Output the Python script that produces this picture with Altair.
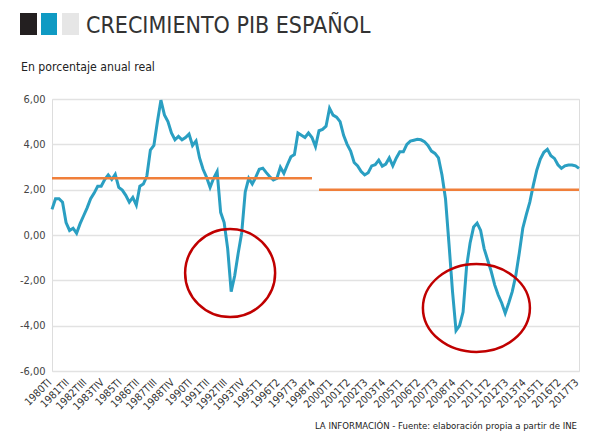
import json
import altair as alt
import pandas as pd

# ---- data -------------------------------------------------------------
gdp_growth = [
    1.13, 1.6, 1.6, 1.45, 0.55, 0.2, 0.3, 0.08, 0.5, 0.85,
    1.2, 1.6, 1.85, 2.15, 2.15, 2.45, 2.65, 2.45, 2.68, 2.1,
    1.98, 1.75, 1.45, 1.66, 1.32, 2.15, 2.25, 2.6, 3.75, 3.95,
    5.0, 5.95, 5.3, 5.0, 4.5, 4.2, 4.35, 4.2, 4.3, 4.45,
    3.95, 4.15, 3.4, 2.9, 2.55, 2.1, 2.5, 2.8, 1.0, 0.55,
    -0.6, -2.5, -1.8, -0.8, 0.1, 1.9, 2.5, 2.25, 2.55, 2.9,
    2.95, 2.75, 2.57, 2.43, 2.5, 2.99, 2.72, 3.1, 3.45, 3.55,
    4.5, 4.4, 4.3, 4.5, 4.3, 3.9, 4.6, 4.66, 4.8, 5.59,
    5.29, 5.2, 5.0, 4.4, 4.0, 3.7, 3.2, 3.05, 2.8, 2.65,
    2.75, 3.05, 3.1, 3.3, 3.04, 3.13, 3.4, 3.05, 3.4, 3.67,
    3.67, 4.0, 4.14, 4.18, 4.22, 4.2, 4.12, 3.95, 3.7, 3.6,
    3.4, 2.65, 1.6, -0.4, -2.5, -4.22, -4.0, -3.4, -1.4, -0.35,
    0.35, 0.52, 0.2, -0.6, -1.1, -1.6, -2.2, -2.65, -3.0, -3.45,
    -3.0, -2.5, -1.8, -0.8, 0.3, 0.9, 1.45, 2.2, 2.87, 3.35,
    3.65, 3.78, 3.5, 3.38, 3.1, 2.94, 3.05, 3.09, 3.09, 3.05,
    2.94,
]
quarter_index = list(range(len(gdp_growth)))

tick_labels = [
    "1980TI", "1981TII", "1982TIII", "1983TIV", "1985TI", "1986TII",
    "1987TIII", "1988TIV", "1990TI", "1991TII", "1992TIII", "1993TIV",
    "1995T1", "1996T2", "1997T3", "1998T4", "2000T1", "2001T2", "2002T3",
    "2003T4", "2005T1", "2006T2", "2007T3", "2008T4", "2010T1", "2011T2",
    "2012T3", "2013T4", "2015T1", "2016T2", "2017T3",
]

avg_start = [0, 76]
avg_end = [74, 150]
avg_value = [2.5, 2.0]

circle_x = [50.7, 120.8]
circle_y = [-1.68, -3.22]

# ---- styling ------------------------------------------------------------
NARROW = "'DejaVu Sans Condensed', 'Liberation Sans', sans-serif"
BLUE = "#2a9fc2"
ORANGE = "#f07f3a"
RED = "#c00000"

series = pd.DataFrame({"q": quarter_index, "v": gdp_growth})
avgs = pd.DataFrame({"q": avg_start, "e": avg_end, "v": avg_value})
circles = pd.DataFrame({"q": circle_x, "v": circle_y})

label_expr = json.dumps(tick_labels).replace('"', "'") + "[round(datum.value / 5)]"

x_scale = alt.Scale(domain=[0, 150], nice=False, zero=False)
y_scale = alt.Scale(domain=[-6, 6], nice=False)

x_axis = alt.Axis(
    values=list(range(0, 151, 5)), labelExpr=label_expr, labelAngle=-45,
    labelOverlap=False, labelBound=False, labelFlush=False, grid=False,
    domain=False, ticks=False, labelFont=NARROW, labelFontSize=10.5,
    labelColor="#333333", labelPadding=6, labelOffset=-6, title=None,
)
y_axis = alt.Axis(
    values=[-6, -4, -2, 0, 2, 4, 6],
    labelExpr="(datum.value < 0 ? '-' : '') + replace(format(abs(datum.value), '.2f'), '.', ',')",
    grid=True, gridColor="#e2e2e2", gridWidth=1.5, domain=False, ticks=False,
    labelFont=NARROW, labelFontSize=11, labelColor="#444444", labelPadding=7,
    labelOverlap=False, title=None,
)

X = alt.X("q:Q", scale=x_scale, axis=x_axis)
Y = alt.Y("v:Q", scale=y_scale, axis=y_axis)

line = alt.Chart(series).mark_line(color=BLUE, strokeWidth=3).encode(x=X, y=Y)

avg_rules = alt.Chart(avgs).mark_rule(color=ORANGE, strokeWidth=2.5).encode(
    x=X, x2="e:Q", y=Y
)

c1 = alt.Chart(circles.iloc[[0]]).mark_point(
    shape="M -1 0 A 1 0.978 0 1 0 1 0 A 1 0.978 0 1 0 -1 0 Z",
    filled=False, color=RED, strokeWidth=2.5, opacity=1, size=90 * 90,
).encode(x=X, y=Y)

c2 = alt.Chart(circles.iloc[[1]]).mark_point(
    shape="M -1 0 A 1 0.822 0 1 0 1 0 A 1 0.822 0 1 0 -1 0 Z",
    filled=False, color=RED, strokeWidth=2.5, opacity=1, size=107 * 107,
).encode(x=X, y=Y)

# decorative header squares (pixel positions relative to plot area)
sq = alt.Chart(pd.DataFrame({"k": [0]})).mark_rect
sq_black = sq(color="#231f20").encode(x=alt.value(-32), x2=alt.value(-15), y=alt.value(-86), y2=alt.value(-64))
sq_blue = sq(color="#0f9ac3").encode(x=alt.value(-11), x2=alt.value(5), y=alt.value(-86), y2=alt.value(-64))
sq_grey = sq(color="#e6e6e6").encode(x=alt.value(10), x2=alt.value(27), y=alt.value(-86), y2=alt.value(-64))

txt = alt.Chart(pd.DataFrame({"k": [0]}))
title = txt.mark_text(
    text="CRECIMIENTO PIB ESPAÑOL", font=NARROW, fontSize=23, color="#333333",
    align="left", baseline="alphabetic",
).encode(x=alt.value(34), y=alt.value(-66))
subtitle = txt.mark_text(
    text="En porcentaje anual real", font=NARROW, fontSize=12.2, color="#222222",
    align="left", baseline="alphabetic",
).encode(x=alt.value(-31), y=alt.value(-28))
footer = txt.mark_text(
    text="LA INFORMACIÓN - Fuente: elaboración propia a partir de INE", font=NARROW,
    fontSize=9.5, color="#222222", align="right", baseline="alphabetic",
).encode(x=alt.value(525), y=alt.value(330))

chart = alt.layer(
    line, avg_rules, c1, c2, sq_black, sq_blue, sq_grey, title, subtitle, footer
).properties(
    width=527, height=272,
    autosize=alt.AutoSizeParams(type="none"),
    padding={"left": 44, "top": 91, "right": 2, "bottom": 60},
).configure_view(stroke=None).configure(background="white")

chart.save("out.html", embed_options={"renderer": "svg", "actions": False})
